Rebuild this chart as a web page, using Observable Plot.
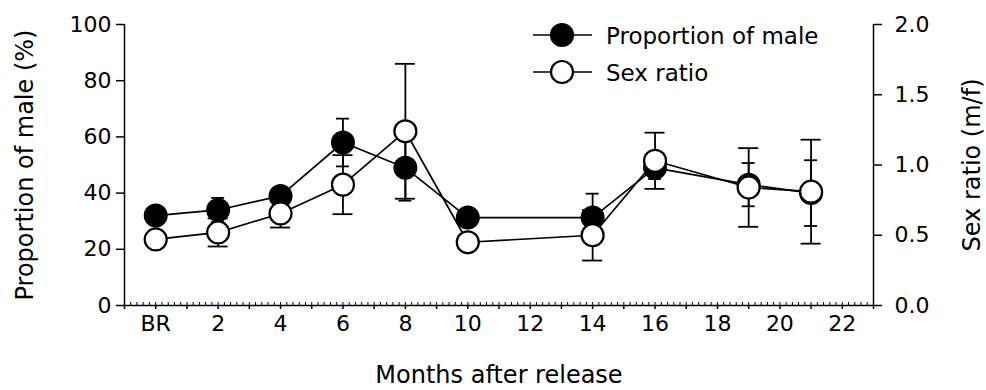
<!DOCTYPE html>
<html><head><meta charset="utf-8">
<script src="https://cdn.jsdelivr.net/npm/d3@7"></script>
<script src="https://cdn.jsdelivr.net/npm/@observablehq/plot@0.6"></script>
<style>
body{margin:0;background:#fff;}
#chart{position:relative;width:986px;height:390px;font-family:"DejaVu Sans",sans-serif;}
#legend{position:absolute;left:0;top:0;pointer-events:none;}
</style></head><body><div id="chart"></div>
<script>
// ---- data ----
const months = [0, 2, 4, 6, 8, 10, 14, 16, 19, 21];
const proportionMale = [32, 34, 39, 58, 49, 31.3, 31.3, 49, 43, 40];
const proportionSE = [1.5, 4.3, 2.5, 8.5, 11.7, 1.5, 8.5, 4, 7.7, 11.7];
const sexRatio = [0.47, 0.52, 0.655, 0.86, 1.24, 0.45, 0.5, 1.03, 0.84, 0.81];
const sexRatioSE = [0.03, 0.1, 0.1, 0.21, 0.48, 0.04, 0.18, 0.2, 0.28, 0.37];
const xTickValues = [0, 2, 4, 6, 8, 10, 12, 14, 16, 18, 20, 22];
const xTickLabels = ["BR", "2", "4", "6", "8", "10", "12", "14", "16", "18", "20", "22"];
const leftTicks = [0, 20, 40, 60, 80, 100];
const rightTicks = [0, 0.5, 1.0, 1.5, 2.0];
const seriesNames = ["Proportion of male", "Sex ratio"];
const xTitle = "Months after release";
const yTitleLeft = "Proportion of male (%)";
const yTitleRight = "Sex ratio (m/f)";
const xDomain = [-1, 23];
const yDomain = [0, 100];
const ratioToPercent = 50; // right axis 2.0 ↔ left axis 100

const majorTicks = d3.range(xDomain[0], xDomain[1] + 1);
const minorTicks = d3.range(0, (xDomain[1] - xDomain[0]) * 5 + 1).map(k => +(xDomain[0] + k * 0.2).toFixed(2));

const data = months.map((m, i) => ({
  month: m,
  male: proportionMale[i], maleLo: proportionMale[i] - proportionSE[i], maleHi: proportionMale[i] + proportionSE[i],
  ratio: sexRatio[i] * ratioToPercent,
  ratioLo: (sexRatio[i] - sexRatioSE[i]) * ratioToPercent,
  ratioHi: (sexRatio[i] + sexRatioSE[i]) * ratioToPercent
}));

const font = '"DejaVu Sans", sans-serif';
const plot = Plot.plot({
  width: 986, height: 390,
  marginLeft: 124, marginRight: 113, marginTop: 24, marginBottom: 85,
  style: {fontFamily: font, fontSize: "22px", color: "#000", background: "#fff", overflow: "visible"},
  x: {domain: xDomain, label: null},
  y: {domain: yDomain, label: null},
  marks: [
    // axes
    Plot.axisX({ticks: minorTicks, tickSize: -3, tickFormat: () => "", strokeWidth: 1, label: null}),
    Plot.axisX({ticks: majorTicks, tickSize: 4, tickFormat: () => "", strokeWidth: 1.5, label: null}),
    Plot.axisX({ticks: xTickValues, tickSize: 0, tickPadding: 10, fontSize: 22,
      tickFormat: d => xTickLabels[xTickValues.indexOf(d)], label: null}),
    Plot.axisY({anchor: "left", ticks: leftTicks, tickSize: 8, tickPadding: 5, fontSize: 22, strokeWidth: 1.5, label: null}),
    Plot.axisY({anchor: "right", ticks: rightTicks.map(r => r * ratioToPercent), tickSize: 8, tickPadding: 13, fontSize: 22,
      strokeWidth: 1.5, tickFormat: d => (d / ratioToPercent).toFixed(1), label: null}),
    Plot.ruleX([xDomain[0], xDomain[1]], {stroke: "#000", strokeWidth: 1.5}),
    Plot.ruleY([yDomain[0]], {stroke: "#000", strokeWidth: 1.5}),
    // titles
    Plot.text([xTitle], {text: d => d, frameAnchor: "bottom", dy: 70, fontSize: 24, textAnchor: "middle", lineAnchor: "middle"}),
    Plot.text([yTitleLeft], {text: d => d, frameAnchor: "left", dx: -99, rotate: -90, fontSize: 24, textAnchor: "middle", lineAnchor: "middle"}),
    Plot.text([yTitleRight], {text: d => d, frameAnchor: "right", dx: 99, rotate: -90, fontSize: 24, textAnchor: "middle", lineAnchor: "middle"}),
    // series lines
    Plot.line(data, {x: "month", y: "male", stroke: "#000", strokeWidth: 1.7}),
    Plot.line(data, {x: "month", y: "ratio", stroke: "#000", strokeWidth: 1.7}),
    // error bars
    Plot.ruleX(data, {x: "month", y1: "maleLo", y2: "maleHi", stroke: "#000", strokeWidth: 1.8}),
    Plot.ruleY(data, {y: "maleHi", x1: "month", x2: "month", insetLeft: -6.5, insetRight: -6.5, stroke: "#000", strokeWidth: 1.8}),
    Plot.ruleY(data, {y: "maleLo", x1: "month", x2: "month", insetLeft: -6.5, insetRight: -6.5, stroke: "#000", strokeWidth: 1.8}),
    Plot.ruleX(data, {x: "month", y1: "ratioLo", y2: "ratioHi", stroke: "#000", strokeWidth: 1.8}),
    Plot.ruleY(data, {y: "ratioHi", x1: "month", x2: "month", insetLeft: -10, insetRight: -10, stroke: "#000", strokeWidth: 1.8}),
    Plot.ruleY(data, {y: "ratioLo", x1: "month", x2: "month", insetLeft: -10, insetRight: -10, stroke: "#000", strokeWidth: 1.8}),
    // points
    Plot.dot(data, {x: "month", y: "male", r: 11, fill: "#000", stroke: "#000", strokeWidth: 2}),
    Plot.dot(data, {x: "month", y: "ratio", r: 11, fill: "#fff", stroke: "#000", strokeWidth: 2.2})
  ]
});
const chart = document.getElementById("chart");
chart.appendChild(plot);

// legend overlay
const leg = d3.select(chart).append("svg").attr("id", "legend").attr("width", 986).attr("height", 390);
const rows = [{name: seriesNames[0], fill: "#000", y: 35}, {name: seriesNames[1], fill: "#fff", y: 72}];
const g = leg.selectAll("g").data(rows).join("g").attr("transform", d => `translate(0,${d.y})`);
g.append("line").attr("x1", 533).attr("x2", 592).attr("stroke", "#000").attr("stroke-width", 1.7);
g.append("circle").attr("cx", 562).attr("r", 11).attr("fill", d => d.fill).attr("stroke", "#000").attr("stroke-width", 2.2);
g.append("text").attr("x", 606).attr("y", 1).attr("dominant-baseline", "central")
  .attr("font-family", font).attr("font-size", 23).text(d => d.name);
</script></body></html>
